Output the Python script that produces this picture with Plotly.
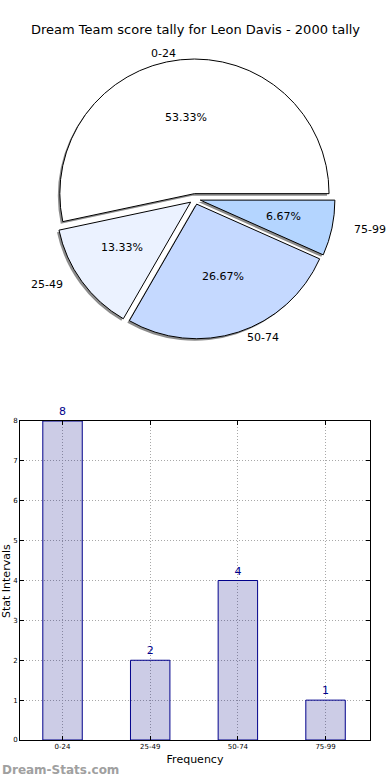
import math
import plotly.graph_objects as go

categories = ["0-24", "25-49", "50-74", "75-99"]
counts = [8, 2, 4, 1]
pie_colors = ["#FFFFFF", "#EBF2FF", "#C5D9FF", "#B4D5FF"]
title_text = "Dream Team score tally for Leon Davis - 2000 tally"

W, H = 390, 780

def fx(x):
    return x / W

def fy(y):
    return 1 - y / H

explode = 0.04
pull = [explode] * len(counts)
cx, cy, box = 195, 199, 280      # pie centre (px) and domain box
rx, ry = 141, 128                # text placement radii (px)
total = sum(counts)
# first wedge starts at 3 o'clock and the wedges run counterclockwise
rotation = 90 - 360 * counts[0] / total

def dom(cx, cy, box):
    return dict(x=[fx(cx - box / 2), fx(cx + box / 2)],
                y=[fy(cy + box / 2), fy(cy - box / 2)])

fig = go.Figure()

# shadow
fig.add_trace(go.Pie(labels=categories, values=counts, sort=False,
                     direction="counterclockwise", rotation=rotation, pull=pull,
                     marker=dict(colors=["#8c8c8c"] * 4, line=dict(width=0)),
                     textinfo="none", hoverinfo="skip", showlegend=False,
                     domain=dom(cx - 2, cy + 2, box)))
# main pie
fig.add_trace(go.Pie(labels=categories, values=counts, sort=False,
                     direction="counterclockwise", rotation=rotation, pull=pull,
                     marker=dict(colors=pie_colors, line=dict(color="black", width=1)),
                     textinfo="none", hovertemplate="%{label}: %{percent:.2%}<extra></extra>",
                     showlegend=False, domain=dom(cx, cy, box)))

fig.add_trace(go.Bar(x=list(range(len(categories))), y=counts, width=0.45,
                     marker=dict(color="rgba(0,0,128,0.2)", line=dict(color="#00008B", width=1)),
                     text=[str(c) for c in counts], textposition="outside",
                     textfont=dict(family="DejaVu Sans", size=11, color="#00008B"),
                     cliponaxis=False, showlegend=False, xaxis="x", yaxis="y"))

# pie texts (labels outside, percentages inside), positioned from the data
annotations = []
acc = 0
for lab, v in zip(categories, counts):
    mid = math.radians(360 * (acc + v / 2) / total)
    acc += v
    c, s = math.cos(mid), math.sin(mid)
    d = 1.1 + explode
    annotations.append(dict(text=lab, x=fx(cx + d * rx * c), y=fy(cy - d * ry * s),
                            xref="paper", yref="paper", showarrow=False,
                            xanchor="right" if c < 0 else "left", yanchor="middle",
                            font=dict(family="DejaVu Sans", size=11, color="black")))
    d = 0.6 + explode
    annotations.append(dict(text=f"{100 * v / total:.2f}%", x=fx(cx + d * rx * c),
                            y=fy(cy - d * ry * s), xref="paper", yref="paper",
                            showarrow=False, xanchor="center", yanchor="middle",
                            font=dict(family="DejaVu Sans", size=11, color="black")))

annotations += [
    dict(text=title_text, x=fx(195), y=fy(30), xref="paper", yref="paper",
         xanchor="center", yanchor="middle", showarrow=False,
         font=dict(family="DejaVu Sans", size=13, color="black")),
    dict(text="Stat Intervals", x=fx(6), y=fy(581), xref="paper", yref="paper",
         xanchor="center", yanchor="middle", showarrow=False, textangle=-90,
         font=dict(family="DejaVu Sans", size=11, color="black")),
    dict(text="<b>Dream-Stats.com</b>", x=fx(0), y=fy(770), xref="paper", yref="paper",
         xanchor="left", yanchor="middle", showarrow=False,
         font=dict(family="DejaVu Sans", size=12, color="#a0a0a0")),
]

axis_common = dict(showline=True, linecolor="black", linewidth=1, mirror="ticks",
                   ticks="inside", ticklen=4, tickcolor="black",
                   showgrid=True, gridcolor="#a8a8a8", griddash="1px,2px", gridwidth=1,
                   zeroline=False, tickfont=dict(family="DejaVu Sans", size=7, color="black"))

fig.update_layout(
    width=W, height=H, margin=dict(l=0, r=0, t=0, b=0),
    paper_bgcolor="white", plot_bgcolor="white",
    font=dict(family="DejaVu Sans", color="black"),
    xaxis=dict(domain=[fx(20), fx(370)], range=[-0.485, 3.507],
               tickmode="array", tickvals=list(range(len(categories))), ticktext=categories,
               title=dict(text="Frequency", font=dict(size=11), standoff=4),
               automargin=False, **axis_common),
    yaxis=dict(domain=[fy(740), fy(421)], range=[0, 8], dtick=1,
               automargin=False, **axis_common),
    annotations=annotations,
)

fig.write_html("out.html", config={"displayModeBar": False},
               post_script="document.body.style.margin='0px';")
